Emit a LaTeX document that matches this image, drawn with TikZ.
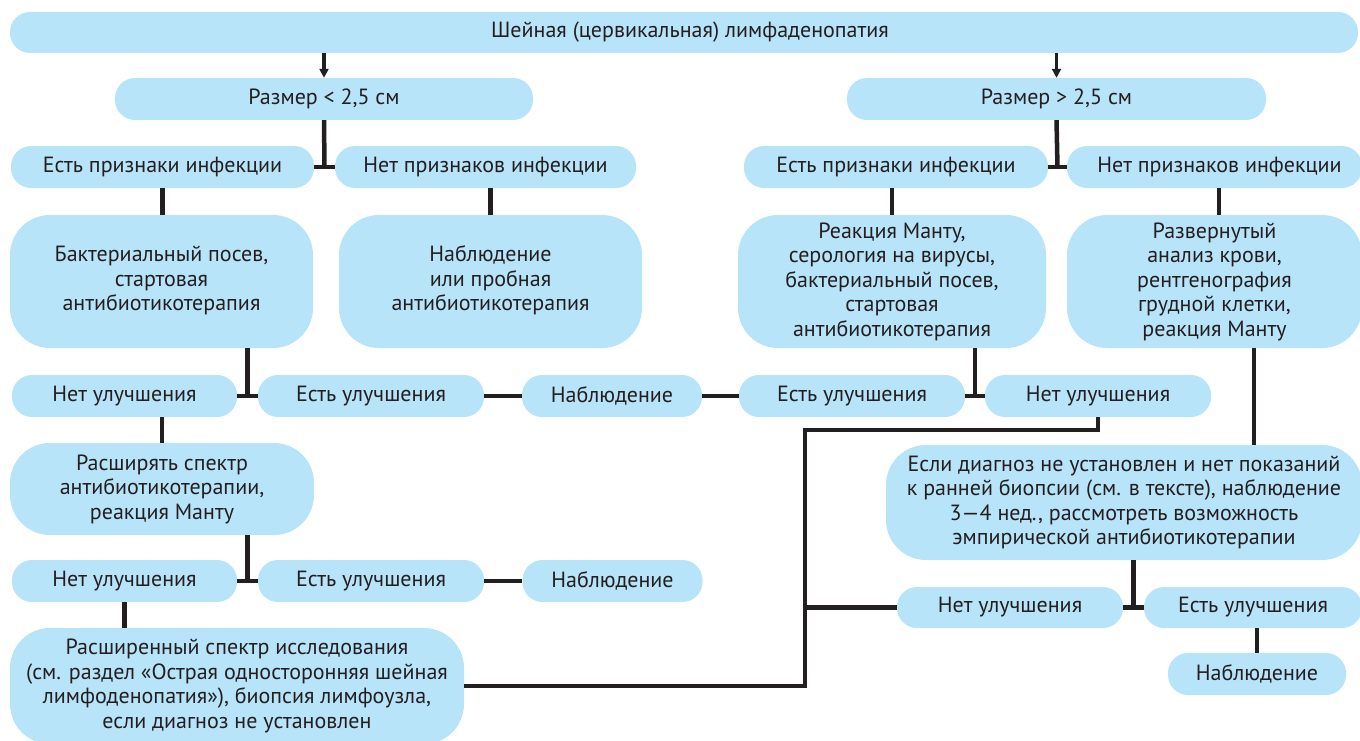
\documentclass[tikz,border=0pt]{standalone}
\usepackage{fontspec}
\setmainfont{PT Sans}
\usetikzlibrary{calc,arrows.meta}
\definecolor{boxblue}{HTML}{B8E4F9}
\definecolor{ink}{HTML}{231F20}
\begin{document}
\begin{tikzpicture}[x=1pt,y=-1pt,
  box/.style={fill=boxblue,draw=none,rounded corners=20pt,inner sep=0pt,align=center,
    text=ink,font=\fontsize{22}{24.5}\selectfont,minimum height=42pt},
  bigbox/.style={box,rounded corners=40pt},
  conn/.style={draw=ink,line width=4.5pt},
  arr/.style={draw=ink,line width=3.5pt,-{Triangle[width=9pt,length=9pt]}}]
\useasboundingbox (0,0) rectangle (1360,741);
% nodes
\node[box,minimum width=1348pt,minimum height=41pt] (top) at (684,32.5) {\hspace*{12pt}Шейная (цервикальная) лимфаденопатия};
\node[box,minimum width=418pt] (r1) at (324,99) {Размер < 2,5 см};
\node[box,minimum width=419pt] (r2) at (1056.5,99) {Размер > 2,5 см};
\node[box,minimum width=303pt] (inf1) at (162.5,167) {Есть признаки инфекции};
\node[box,minimum width=301pt] (noinf1) at (485.5,167) {Нет признаков инфекции};
\node[box,minimum width=304pt] (inf2) at (896,167) {Есть признаки инфекции};
\node[box,minimum width=295pt] (noinf2) at (1214.5,167) {\hspace*{10pt}Нет признаков инфекции};
\node[bigbox,minimum width=303pt,minimum height=133pt] (bact) at (161.5,281.5) {\raisebox{9pt}{\begin{tabular}{@{}c@{}}Бактериальный посев,\\ стартовая\\ антибиотикотерапия\end{tabular}}};
\node[bigbox,minimum width=303pt,minimum height=133pt] (obs1) at (490.5,281.5) {\raisebox{8pt}{\begin{tabular}{@{}c@{}}Наблюдение\\ или пробная\\ антибиотикотерапия\end{tabular}}};
\node[bigbox,minimum width=308pt,minimum height=133pt] (mantu) at (892,281.5) {Реакция Манту,\\ серология на вирусы,\\ бактериальный посев,\\ стартовая\\ антибиотикотерапия};
\node[bigbox,minimum width=295pt,minimum height=133pt] (razv) at (1214.5,281.5) {Развернутый\\ анализ крови,\\ рентгенография\\ грудной клетки,\\ реакция Манту};
\node[box,minimum width=225pt] (ni1) at (124.5,396) {Нет улучшения};
\node[box,minimum width=226pt] (ei1) at (371,396) {Есть улучшения};
\node[box,minimum width=180pt] (nab1) at (612,396) {Наблюдение};
\node[box,minimum width=226pt] (ei2) at (852,396) {Есть улучшения};
\node[box,minimum width=226pt] (ni2) at (1098,396) {Нет улучшения};
\node[bigbox,minimum width=304pt,minimum height=92pt] (ext) at (162,489) {Расширять спектр\\ антибиотикотерапии,\\ реакция Манту};
\node[box,minimum width=225pt] (ni3) at (124.5,581) {Нет улучшения};
\node[box,minimum width=226pt] (ei3) at (371,581) {Есть улучшения};
\node[box,minimum width=180pt] (nab2) at (612.5,581) {Наблюдение};
\node[bigbox,minimum width=476pt,minimum height=115pt] (esli) at (1124,502.5) {Если диагноз не установлен и нет показаний\\ к ранней биопсии (см. в тексте), наблюдение\\ 3—4 нед., рассмотреть возможность\\ эмпирической антибиотикотерапии};
\node[box,minimum width=226pt,minimum height=41pt] (ni4) at (1010,607.5) {Нет улучшения};
\node[box,minimum width=218pt,minimum height=41pt] (ei4) at (1253,607.5) {Есть улучшения};
\node[box,minimum width=178pt] (nab3) at (1257,674) {Наблюдение};
\node[bigbox,minimum width=454pt,minimum height=116pt] (ras) at (237,686) {Расширенный спектр исследования\\ (см. раздел «Острая односторонняя шейная\\ лимфоденопатия»), биопсия лимфоузла,\\ если диагноз не установлен};
% junction coordinates
\coordinate (jt1) at ($(inf1.east)!0.5!(noinf1.west)$);
\coordinate (jt2) at ($(inf2.east)!0.5!(noinf2.west)$);
\coordinate (j1) at ($(ni1.east)!0.5!(ei1.west)$);
\coordinate (j2) at ($(ei2.east)!0.5!(ni2.west)$);
\coordinate (j3) at ($(ni3.east)!0.5!(ei3.west)$);
\coordinate (j4) at ($(ni4.east)!0.5!(ei4.west)$);
\coordinate (bus) at (805,430);
% connectors
\draw[arr] (top.south -| r1.north) -- (r1.north);
\draw[arr] (top.south -| r2.north) -- (r2.north);
\draw[conn] (r1.south) -- (jt1);
\draw[conn] (inf1.east) -- (noinf1.west);
\draw[conn] (r2.south) -- (jt2);
\draw[conn] (inf2.east) -- (noinf2.west);
\draw[conn] (inf1.south) -- (inf1.south |- bact.north);
\draw[conn] (obs1.north |- noinf1.south) -- (obs1.north);
\draw[conn] (mantu.north |- inf2.south) -- (mantu.north);
\draw[conn] ([xshift=4.5pt]noinf2.south) -- ([xshift=4.5pt]noinf2.south |- razv.north);
\draw[conn] (j1 |- bact.south) -- (j1);
\draw[conn] (ni1.east) -- (ei1.west);
\draw[conn] (ei1.east) -- (nab1.west);
\draw[conn] (nab1.east) -- (ei2.west);
\draw[conn] (j2 |- mantu.south) -- (j2);
\draw[conn] (ei2.east) -- (ni2.west);
\draw[conn] (ext.north |- ni1.south) -- (ext.north);
\draw[conn] (j3 |- ext.south) -- (j3);
\draw[conn] (ni3.east) -- (ei3.west);
\draw[conn] (ei3.east) -- (nab2.west);
\draw[conn] (ni3.south) -- (ni3.south |- ras.north);
\draw[conn] (ras.east) -| (bus) -| (ni2.south);
\draw[conn] (ni4.west) -- (ni4.west -| bus);
\draw[conn] ([xshift=39.5pt]razv.south) -- ([xshift=39.5pt]razv.south |- esli.north);
\draw[conn] (j4 |- esli.south) -- (j4);
\draw[conn] (ni4.east) -- (ei4.west);
\draw[conn] (nab3.north |- ei4.south) -- (nab3.north);
\end{tikzpicture}
\end{document}
